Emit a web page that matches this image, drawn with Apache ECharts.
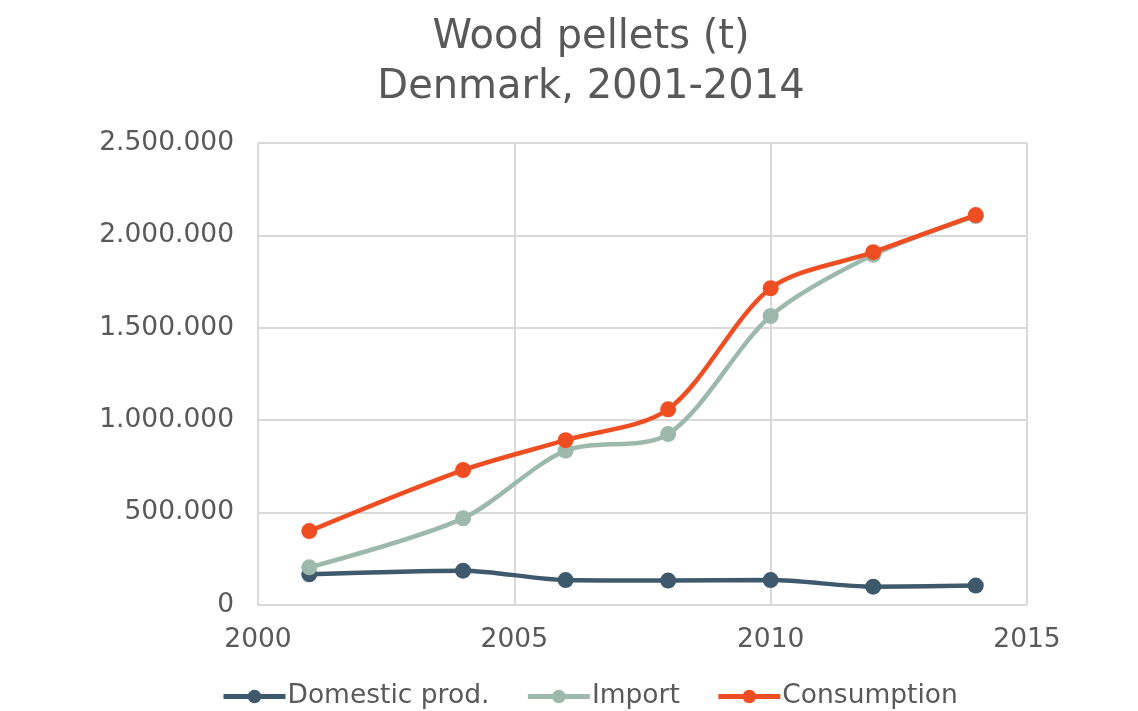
<!DOCTYPE html>
<html>
<head>
<meta charset="utf-8">
<script src="https://cdn.jsdelivr.net/npm/echarts@6/dist/echarts.min.js"></script>
<style>
html,body{margin:0;padding:0;background:#fff;}
#c{width:1138px;height:711px;}
</style>
</head>
<body>
<div id="c"></div>
<script>
const years = [2001, 2004, 2006, 2008, 2010, 2012, 2014];
const domestic = [166000, 186000, 135000, 132000, 135000, 99000, 105000];
const imports = [204000, 469000, 835000, 925000, 1564000, 1895000, 2105000];
const consumption = [400000, 730000, 892000, 1059000, 1714000, 1909000, 2110000];
const seriesNames = ['Domestic prod.', 'Import', 'Consumption'];
const colors = ['#3F596C', '#9DB9AE', '#EF4E23'];
const titleLines = ['Wood pellets (t)', 'Denmark, 2001-2014'];

const FONT = 'DejaVu Sans';
const TXT = '#595959';

function pairs(vals){ return years.map((y,i)=>[y, vals[i]]); }
function fmt(v){ return String(v).replace(/\B(?=(\d{3})+(?!\d))/g, '.'); }

const chart = echarts.init(document.getElementById('c'));
const seriesData = [domestic, imports, consumption];
chart.setOption({
  backgroundColor: '#fff',
  animation: false,
  title: {
    text: titleLines.join('\n'),
    left: 586, top: 8, textAlign: 'center',
    textStyle: {fontFamily: FONT, fontSize: 40, fontWeight: 'normal', color: TXT, lineHeight: 50}
  },
  legend: {
    bottom: -4, left: 216,
    itemWidth: 62, itemHeight: 17, itemGap: 36,
    lineStyle: {width: 5},
    textStyle: {fontFamily: FONT, fontSize: 26.5, color: TXT, padding:[0,0,0,-3]},
    data: seriesNames
  },
  grid: {left: 258, right: 111, top: 143, bottom: 106, containLabel: false},
  xAxis: {
    type: 'value', min: 2000, max: 2015, interval: 5,
    axisLine: {show: false}, axisTick: {show: false},
    splitLine: {show: true, lineStyle: {color: '#d9d9d9', width: 2}},
    axisLabel: {fontFamily: FONT, fontSize: 26.5, color: TXT, margin: 22, formatter: v => String(v)}
  },
  yAxis: {
    type: 'value', min: 0, max: 2500000, interval: 500000,
    axisLine: {show: false}, axisTick: {show: false},
    splitLine: {show: true, lineStyle: {color: '#d9d9d9', width: 2}},
    axisLabel: {fontFamily: FONT, fontSize: 26.5, color: TXT, margin: 24, formatter: v => fmt(v)}
  },
  series: seriesNames.map((n,i)=>({
    name: n, type: 'line', smooth: 0.3,
    data: pairs(seriesData[i]),
    symbol: 'circle', symbolSize: 16,
    lineStyle: {color: colors[i], width: 4.5},
    itemStyle: {color: colors[i]},
    z: 2 + i
  }))
});
</script>
</body>
</html>
